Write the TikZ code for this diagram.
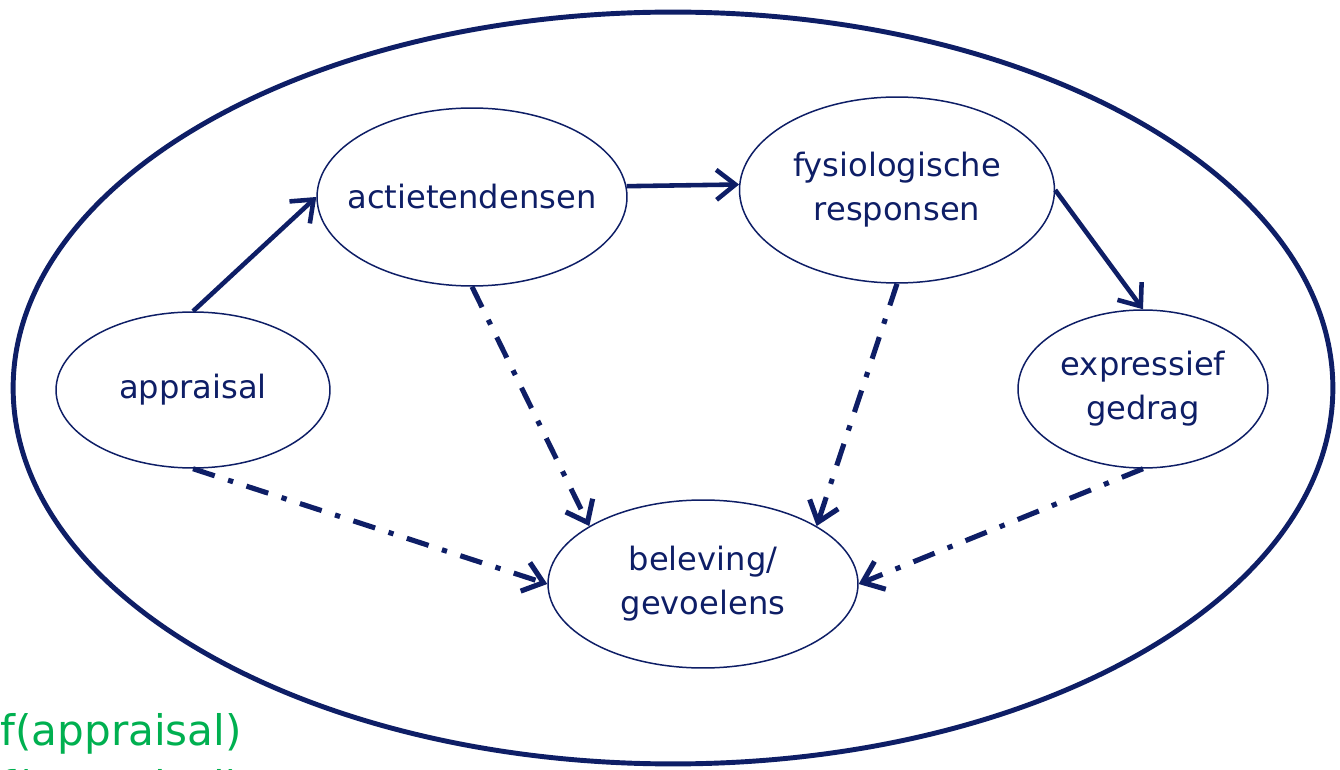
\documentclass[tikz,border=0pt]{standalone}
\usepackage{fontspec}
\setmainfont{DejaVu Sans}
\usetikzlibrary{shapes.geometric,arrows.meta}
\definecolor{navy}{RGB}{14,30,102}
\definecolor{leafgreen}{RGB}{0,176,80}
\tikzset{
  factor/.style={ellipse, draw=navy, line width=0.85pt, inner xsep=-30pt, inner ysep=-10pt, text=navy,
    font=\fontsize{18.3}{25}\selectfont, align=center},
  flow/.style={navy, line width=2.6pt, -{Straight Barb[length=3.8mm,width=6mm]}},
  feel/.style={flow, line width=2.9pt, dash pattern=on 13pt off 8pt on 3pt off 8pt},
  formula/.style={anchor=base west, inner sep=0pt, text=leafgreen, font=\fontsize{24}{30}\selectfont}
}

\begin{document}
\begin{tikzpicture}[x=0.02cm,y=-0.02cm]
                \useasboundingbox (0,0) rectangle (1340,770);
                \clip (0,0) rectangle (1340,770);
                \fill [white] (0,0) rectangle (1340,770);
                \draw [navy, line width=2.8pt] (673,388) ellipse [x radius=13.2cm, y radius=7.52cm];
                \node (app) [factor, minimum width=5.48cm, minimum height=3.12cm] at (193,390) {appraisal};
                \node (act) [factor, minimum width=6.2cm, minimum height=3.56cm] at (472,197) {actietendensen};
                \node (fys) [factor, minimum width=6.3cm, minimum height=3.72cm] at (897,190) {fysiologische\\responsen};
                \node (exp) [factor, minimum width=5.0cm, minimum height=3.16cm] at (1143,389) {expressief\\gedrag};
                \node (bel) [factor, minimum width=6.2cm, minimum height=3.36cm] at (703,584) {beleving/\\gevoelens};
                \draw [flow] (app.north) -- (act.west);
                \draw [flow] (act.4) -- (fys.178);
                \draw [flow] (fys.east) -- (exp.north);
                \draw [feel] (act.south) -- (bel.153);
                \draw [feel] (fys.south) -- (bel.27);
                \draw [feel] (app.south) -- (bel.west);
                \draw [feel] (exp.south) -- (bel.east);
                \node (f1) [formula] at (0,745) {f(appraisal)};
                \node (f2) [formula] at (0,801) {f(appraisal)};
            \end{tikzpicture}
\end{document}
